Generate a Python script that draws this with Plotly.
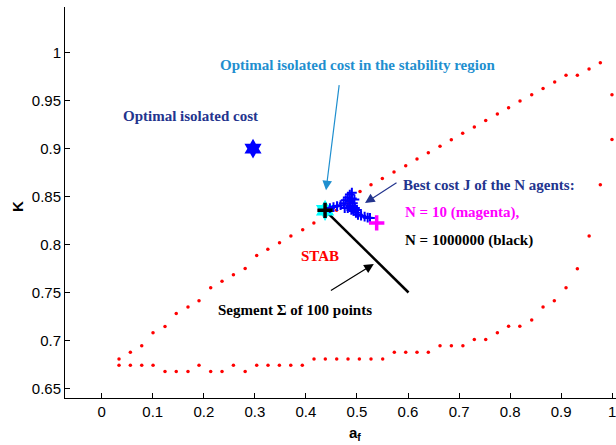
import plotly.graph_objects as go

# Upper edge of the stability region (a_f, K)
upper_af = [0.0339, 0.0561, 0.0784, 0.1005, 0.1240, 0.1460, 0.1690, 0.1906, 0.2135, 0.2357,
            0.2580, 0.2810, 0.3036, 0.3254, 0.3483, 0.3706, 0.3937, 0.4156, 0.4378, 0.4600,
            0.4825, 0.5060, 0.5275, 0.5497, 0.5726, 0.5955, 0.6176, 0.6398, 0.6627, 0.6848,
            0.7071, 0.7299, 0.7522, 0.7750, 0.7970, 0.8194, 0.8423, 0.8645, 0.8873, 0.9095,
            0.9317, 0.9546, 0.9767]
upper_K = [0.6810, 0.6880, 0.6946, 0.7081, 0.7148, 0.7283, 0.7349, 0.7416, 0.7550, 0.7619,
           0.7685, 0.7751, 0.7887, 0.7952, 0.8018, 0.8088, 0.8155, 0.8224, 0.8290, 0.8357,
           0.8424, 0.8553, 0.8621, 0.8688, 0.8755, 0.8821, 0.8891, 0.8956, 0.9022, 0.9091,
           0.9157, 0.9223, 0.9292, 0.9359, 0.9424, 0.9494, 0.9559, 0.9625, 0.9692, 0.9761,
           0.9761, 0.9827, 0.9893]

# Lower and right edge of the stability region
lower_af = [0.0339, 0.0561, 0.0784, 0.1006, 0.1240, 0.1460, 0.1690, 0.1906, 0.2135, 0.2357,
            0.2580, 0.2810, 0.3036, 0.3258, 0.3480, 0.3703, 0.3929, 0.4159, 0.4380, 0.4603,
            0.4825, 0.5047, 0.5275, 0.5504, 0.5732, 0.5955, 0.6176, 0.6398, 0.6627, 0.6849,
            0.7075, 0.7299, 0.7522, 0.7750, 0.7970, 0.8190, 0.8423, 0.8645, 0.8866, 0.9095,
            0.9317, 0.9548, 0.9767, 0.9995, 0.9995]
lower_K = [0.6745, 0.6745, 0.6745, 0.6745, 0.6680, 0.6680, 0.6680, 0.6745, 0.6680, 0.6680,
           0.6745, 0.6680, 0.6745, 0.6745, 0.6745, 0.6745, 0.6745, 0.6810, 0.6810, 0.6810,
           0.6810, 0.6810, 0.6810, 0.6810, 0.6880, 0.6880, 0.6880, 0.6880, 0.6948, 0.6948,
           0.6948, 0.7013, 0.7013, 0.7083, 0.7149, 0.7149, 0.7215, 0.7350, 0.7416, 0.7551,
           0.7749, 0.8088, 0.8623, 0.9092, 0.9560]

# Best cost J of the N agents for the intermediate N
best_af = [0.4470, 0.4540, 0.4610, 0.4680, 0.4740, 0.4780, 0.4820, 0.4860, 0.4900,
           0.4760, 0.4820, 0.4880, 0.4920, 0.4950, 0.4900, 0.4860, 0.4890, 0.4960,
           0.5000, 0.4930, 0.4980, 0.5020, 0.5080, 0.5150, 0.5210, 0.5255]
best_K = [0.8380, 0.8390, 0.8400, 0.8410, 0.8430, 0.8460, 0.8490, 0.8520, 0.8540,
          0.8380, 0.8380, 0.8400, 0.8430, 0.8470, 0.8480, 0.8450, 0.8360, 0.8380,
          0.8360, 0.8350, 0.8330, 0.8310, 0.8300, 0.8290, 0.8280, 0.8276]

# Special points
iso_af, iso_K = [0.2964], [0.8998]          # optimal isolated cost
stab_af, stab_K = [0.4375], [0.8356]        # optimal isolated cost in the stability region
n10_af, n10_K = [0.5386], [0.8225]          # N = 10
nbig_af, nbig_K = [0.4375], [0.8356]        # N = 1000000
seg_af = [0.4375, 0.6010]                   # segment Sigma
seg_K = [0.8356, 0.7501]

serif = "Liberation Serif"
sans = "Liberation Sans"
navy = "#23348e"
skyblue = "#1f8fcf"

fig = go.Figure()
fig.add_trace(go.Scatter(x=upper_af, y=upper_K, mode="markers",
                         marker=dict(color="#ff0000", size=3.5)))
fig.add_trace(go.Scatter(x=lower_af, y=lower_K, mode="markers",
                         marker=dict(color="#ff0000", size=3.5)))
fig.add_trace(go.Scatter(x=seg_af, y=seg_K, mode="lines",
                         line=dict(color="black", width=2.5)))
fig.add_trace(go.Scatter(x=stab_af, y=stab_K, mode="markers",
                         marker=dict(symbol="hexagram", color="#00ffff", size=16)))
fig.add_trace(go.Scatter(x=best_af, y=best_K, mode="markers",
                         marker=dict(symbol="cross-thin", size=7,
                                     line=dict(color="#0000ff", width=2))))
fig.add_trace(go.Scatter(x=n10_af, y=n10_K, mode="markers",
                         marker=dict(symbol="cross-thin", size=11,
                                     line=dict(color="#ff00ff", width=3.5))))
fig.add_trace(go.Scatter(x=nbig_af, y=nbig_K, mode="markers",
                         marker=dict(symbol="cross-thin", size=11,
                                     line=dict(color="black", width=3.5))))
fig.add_trace(go.Scatter(x=iso_af, y=iso_K, mode="markers",
                         marker=dict(symbol="hexagram", color="#0000ff", size=15)))

def label(text, x, y, color, xanchor="center"):
    fig.add_annotation(x=x, y=y, xref="x", yref="y", text="<b>" + text + "</b>",
                       showarrow=False, xanchor=xanchor, yanchor="middle",
                       font=dict(family=serif, size=15, color=color))

label("Optimal isolated cost in the stability region", 0.502, 0.987, skyblue)
label("Optimal isolated cost", 0.173, 0.934, navy)
label("Best cost J of the N agents:", 0.587, 0.8623, navy, "left")
label("N = 10 (magenta),", 0.5905, 0.833, "#ff00ff", "left")
label("N = 1000000 (black)", 0.5905, 0.8039, "black", "left")
label("STAB", 0.4275, 0.7882, "#ff0000")
label("Segment \u03a3 of 100 points", 0.3788, 0.732, "black")

def arrow(x0, y0, x1, y1, color, width):
    fig.add_annotation(x=x1, y=y1, ax=x0, ay=y0, xref="x", yref="y", axref="x", ayref="y",
                       text="", showarrow=True, arrowhead=2, arrowsize=1.6,
                       arrowwidth=width, arrowcolor=color)

arrow(0.4655, 0.9674, 0.4394, 0.8565, skyblue, 1.2)
arrow(0.5804, 0.8654, 0.5158, 0.8432, navy, 1.2)
arrow(0.4460, 0.7512, 0.5330, 0.7798, "black", 1.2)

# Axis titles
fig.add_annotation(x=0.496, y=-0.062, xref="x", yref="paper", text="<b>a<sub>f</sub></b>",
                   showarrow=False, yanchor="top",
                   font=dict(family=sans, size=15, color="black"))
fig.add_annotation(x=-0.085, y=0.489, xref="paper", yref="paper", text="<b>K</b>",
                   showarrow=False, textangle=-90, xanchor="center", yanchor="middle",
                   font=dict(family=sans, size=15, color="black"))

axis_common = dict(showline=True, linecolor="black", linewidth=1, ticks="inside",
                   ticklen=5, tickcolor="black", showgrid=False, zeroline=False,
                   mirror=False, ticklabeloverflow="allow",
                   tickfont=dict(family=sans, size=15, color="black"))

fig.update_xaxes(range=[-0.0719, 1.0074], tickvals=[0, 0.1, 0.2, 0.3, 0.4, 0.5, 0.6, 0.7, 0.8, 0.9, 1],
                 ticktext=["0", "0.1", "0.2", "0.3", "0.4", "0.5", "0.6", "0.7", "0.8", "0.9", "1"],
                 **axis_common)
fig.update_yaxes(range=[0.6403, 1.0472], tickvals=[0.65, 0.7, 0.75, 0.8, 0.85, 0.9, 0.95, 1],
                 ticktext=["0.65", "0.7", "0.75", "0.8", "0.85", "0.9", "0.95", "1"],
                 **axis_common)

fig.update_layout(width=616, height=445, margin=dict(l=65, r=0, t=7, b=47),
                  paper_bgcolor="white", plot_bgcolor="white", showlegend=False)

fig.write_html("out.html")
